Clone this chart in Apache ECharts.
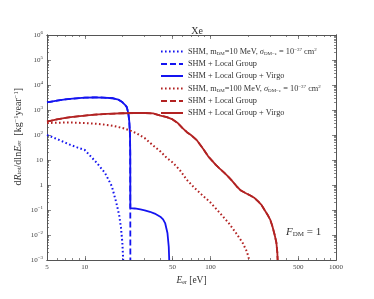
<!DOCTYPE html>
<html><head><meta charset="utf-8">
<script src="https://cdn.jsdelivr.net/npm/echarts@6/dist/echarts.min.js"></script>
<style>html,body{margin:0;padding:0;background:#fff}#c{width:374px;height:299px}</style>
</head><body><div id="c"></div>
<script>
// ---- data ----
const shm10E = [5, 5.6, 6.4, 7.7, 8.7, 10, 11, 12.5, 14.5, 16.4, 17.8, 18.8, 19.4, 19.9, 20.2];
const shm10V = [100, 80, 60, 40, 32, 25, 15, 7.5, 3.0, 0.9, 0.2, 0.06, 0.02, 0.005, 0.001];
const lg10E = [5, 6, 7, 8, 10, 12, 14, 16.8, 18.5, 19.7, 20.8, 21.6, 22.2, 22.6, 22.9, 23.0, 23.05];
const lg10V = [2000, 2350, 2650, 2850, 3100, 3200, 3150, 2950, 2600, 2150, 1650, 1300, 750, 350, 100, 20, 0.001];
const vir10E = [5, 6, 7, 8, 10, 12, 14, 16.8, 18.5, 19.7, 20.8, 21.6, 22.2, 22.6, 22.9, 23.0, 23.05, 25, 27.7, 30, 33, 36, 39.9, 42, 43.6, 45.5, 46.6, 47.0];
const vir10V = [2000, 2350, 2650, 2850, 3100, 3200, 3150, 2950, 2600, 2150, 1650, 1300, 750, 350, 100, 20, 0.12, 0.115, 0.105, 0.097, 0.085, 0.072, 0.054, 0.042, 0.03, 0.012, 0.0034, 0.001];
const shm100E = [5, 6, 7, 8, 10, 12, 14, 17, 20, 23, 26, 30, 35, 40, 45, 50, 57, 65, 75, 85, 100, 118, 140, 160, 180, 195, 204];
const shm100V = [300, 310, 315, 315, 300, 285, 265, 230, 190, 150, 115, 75, 38, 22, 12, 8, 4, 1.6, 0.75, 0.42, 0.2, 0.08, 0.03, 0.012, 0.005, 0.0022, 0.001];
const vir100E = [5, 6, 7, 8, 10, 12, 15, 20, 25, 30, 35, 40, 45, 50, 55, 60, 65, 70, 78, 88, 96, 103, 110, 118, 128, 138, 150, 163, 175, 190, 208, 225, 240, 255, 270, 285, 300, 312, 325, 335, 341, 343];
const vir100V = [340, 420, 480, 530, 600, 650, 700, 740, 760, 760, 730, 600, 520, 420, 300, 190, 130, 100, 62, 27, 14, 9.5, 6.5, 4.6, 3.2, 2.2, 1.4, 0.85, 0.6, 0.48, 0.38, 0.3, 0.22, 0.16, 0.1, 0.065, 0.04, 0.022, 0.01, 0.005, 0.002, 0.001];
const lg100E = vir100E;   // coincides with the Virgo curve in the picture
const lg100V = vir100V;

const xTickLabels = [5, 10, 50, 100, 500, 1000];
const yTickLabels = [1e-3, 1e-2, 1e-1, 1, 10, 1e2, 1e3, 1e4, 1e5, 1e6];
const seriesKeys = ['s10', 'l10', 'v10', 's100', 'l100', 'v100'];
const legendLabels = [
  'SHM, m{sub|DM}=10 MeV, {it|σ}{sub|DM−e} = 10{sup|−37} cm{sup|2}',
  'SHM + Local Group',
  'SHM + Local Group + Virgo',
  'SHM, m{sub|DM}=100 MeV, {it|σ}{sub|DM−e} = 10{sup|−37} cm{sup|2}',
  'SHM + Local Group',
  'SHM + Local Group + Virgo'
];

// ---- build ----
const zip = (a, b) => a.map((x, i) => [x, b[i]]);
const xMinor = [];
[1, 10, 100].forEach(d => { for (let k = 1; k <= 9; k++) { const v = k * d; if (v >= 5 && v <= 1000) xMinor.push(v); } });
xMinor.push(1000);
const yMinor = [];
for (let e = -3; e < 6; e++) for (let k = 1; k <= 9; k++) yMinor.push(k * Math.pow(10, e));
yMinor.push(1e6);

const FONT = 'Liberation Serif';
const BLUE = '#1414f0', RED = '#b22222';
const axisCol = '#555';
const supRich = {
  sup: { fontSize: 5, verticalAlign: 'top', fontFamily: FONT, color: '#333', lineHeight: 9 },
  sub: { fontSize: 5, verticalAlign: 'bottom', fontFamily: FONT, color: '#333', lineHeight: 9 },
  it: { fontStyle: 'italic', fontFamily: FONT, fontSize: 8.3, color: '#333' }
};
function yFmt(v) {
  const e = Math.round(Math.log10(v));
  if (e === 0) return '1';
  if (e === 1) return '10';
  return '10{sup|' + (e < 0 ? '−' + (-e) : e) + '}';
}
function mkX(pos, ticks, len, labels) {
  return {
    type: 'log', logBase: 10, min: 5, max: 1000, position: pos, gridIndex: 0,
    axisLine: { show: true, lineStyle: { color: axisCol, width: 1 } },
    axisTick: { show: true, inside: true, length: len, customValues: ticks, lineStyle: { color: axisCol, width: 0.7 } },
    axisLabel: labels ? { show: true, customValues: xTickLabels, formatter: v => String(v), fontFamily: FONT, fontSize: 7, color: '#444', margin: 4 } : { show: false },
    splitLine: { show: false }, minorTick: { show: false }
  };
}
function mkY(pos, ticks, len, labels) {
  return {
    type: 'log', logBase: 10, min: 1e-3, max: 1e6, position: pos, gridIndex: 0,
    axisLine: { show: true, lineStyle: { color: axisCol, width: 1 } },
    axisTick: { show: true, inside: true, length: len, customValues: ticks, lineStyle: { color: axisCol, width: 0.7 } },
    axisLabel: labels ? { show: true, customValues: yTickLabels, formatter: yFmt, fontFamily: FONT, fontSize: 7, color: '#444', margin: 4, rich: supRich } : { show: false },
    splitLine: { show: false }, minorTick: { show: false }
  };
}
const xAxes = [mkX('bottom', xTickLabels, 4, true), mkX('bottom', xMinor, 2, false), mkX('top', xTickLabels, 4, false), mkX('top', xMinor, 2, false)];
xAxes[0].name = '{it|E}{sub|er} [eV]';
xAxes[0].nameLocation = 'middle';
xAxes[0].nameGap = 14;
xAxes[0].nameTextStyle = { fontFamily: FONT, fontSize: 9.5, color: '#333', rich: { it: { fontStyle: 'italic', fontFamily: FONT, fontSize: 9.5, color: '#333' }, sub: { fontSize: 6, verticalAlign: 'bottom', fontFamily: FONT, color: '#333' } } };
const yAxes = [mkY('left', yTickLabels, 4, true), mkY('left', yMinor, 2, false), mkY('right', yTickLabels, 4, false), mkY('right', yMinor, 2, false)];

const styles = [
  { c: BLUE, t: [1.6, 2.4], w: 2 },
  { c: BLUE, t: [6, 3], w: 1.8 },
  { c: BLUE, t: 'solid', w: 1.8 },
  { c: RED, t: [1.6, 2.4], w: 2 },
  { c: RED, t: [6, 3], w: 1.8 },
  { c: RED, t: 'solid', w: 1.8 }
];
const datas = [zip(shm10E, shm10V), zip(lg10E, lg10V), zip(vir10E, vir10V), zip(shm100E, shm100V), zip(lg100E, lg100V), zip(vir100E, vir100V)];
const series = seriesKeys.map((k, i) => ({
  name: k, type: 'line', xAxisIndex: 0, yAxisIndex: 0, data: datas[i], symbol: 'none', showSymbol: false, smooth: false,
  lineStyle: { color: styles[i].c, width: styles[i].w, type: styles[i].t, cap: 'butt' },
  itemStyle: { color: styles[i].c }, animation: false, z: 2 + i
}));

const chart = echarts.init(document.getElementById('c'), null, { renderer: 'canvas' });
chart.setOption({
  animation: false,
  backgroundColor: '#fff',
  grid: { left: 47, right: 38, top: 35, bottom: 39, containLabel: false },
  title: { text: 'Xe', left: 192, top: 21, textAlign: 'center', textStyle: { fontFamily: FONT, fontSize: 10, fontWeight: 'normal', color: '#333' } },
  legend: {
    orient: 'vertical', left: 155, top: 42, itemWidth: 22, itemHeight: 8, itemGap: 4,
    data: seriesKeys, formatter: n => legendLabels[seriesKeys.indexOf(n)],
    itemStyle: { opacity: 0 },
    textStyle: { fontFamily: FONT, fontSize: 8.3, color: '#333', rich: supRich },
    selectedMode: false
  },
  xAxis: xAxes,
  yAxis: yAxes,
  series: series,
  graphic: [
    { type: 'text', left: 13, top: 88, rotation: Math.PI / 2,
      style: { text: 'd{it|R}{sub|tot}/dln{it|E}{sub|er}  [kg{sup|−1}year{sup|−1}]', fontFamily: FONT, fontSize: 10, fill: '#333',
        rich: { it: { fontStyle: 'italic', fontFamily: FONT, fontSize: 10 }, sub: { fontSize: 6.5, verticalAlign: 'bottom', fontFamily: FONT }, sup: { fontSize: 6.5, verticalAlign: 'top', fontFamily: FONT } } } },
    { type: 'text', left: 286, top: 227,
      style: { text: '{it|F}{sub|DM} = 1', fontFamily: FONT, fontSize: 11, fill: '#333',
        rich: { it: { fontStyle: 'italic', fontFamily: FONT, fontSize: 11 }, sub: { fontSize: 7, verticalAlign: 'bottom', fontFamily: FONT } } } }
  ]
});
</script></body></html>
